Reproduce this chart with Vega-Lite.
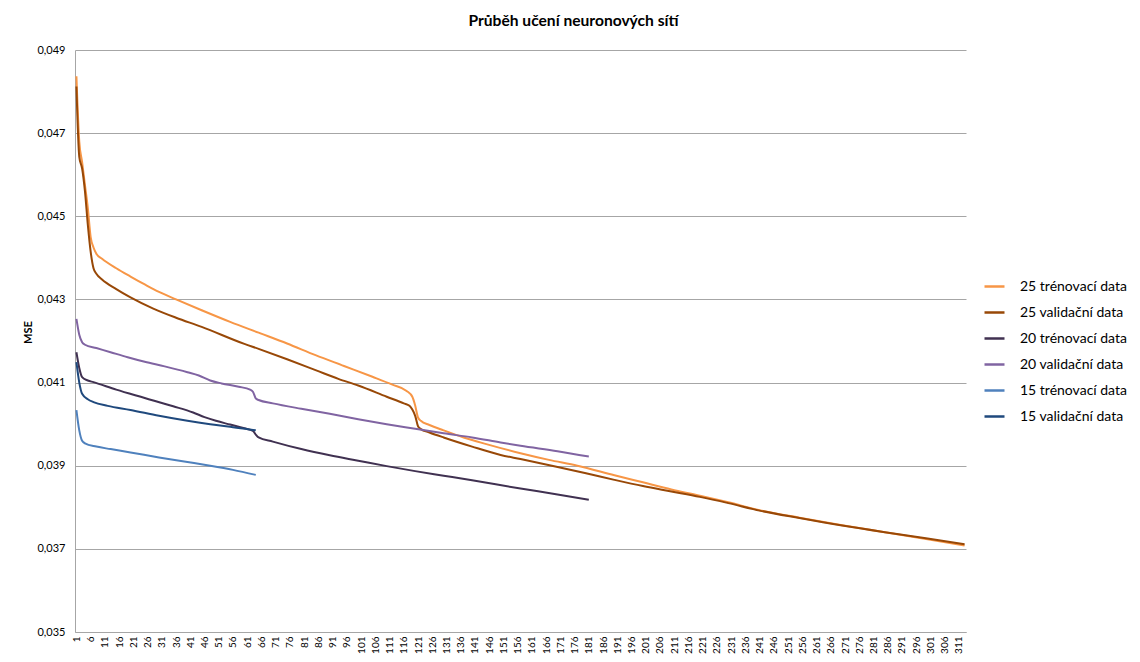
{
  "$schema": "https://vega.github.io/schema/vega-lite/v6.json",
  "width": 891,
  "height": 582,
  "autosize": {"type": "none"},
  "padding": {"left": 75, "top": 50, "right": 174, "bottom": 30},
  "background": "white",
  "title": {"text": "Průběh učení neuronových sítí", "font": "Lato", "fontSize": 15.6, "fontWeight": "bold", "color": "#000000", "anchor": "middle", "dx": 53, "offset": 14},
  "config": {"view": {"stroke": null}, "font": "Lato"},
  "data": {"values": [
    {"serie":"25 trénovací data","epocha":1,"mse":0.04837},{"serie":"25 trénovací data","epocha":2,"mse":0.0468},{"serie":"25 trénovací data","epocha":3,"mse":0.0463},{"serie":"25 trénovací data","epocha":4,"mse":0.04575},{"serie":"25 trénovací data","epocha":5,"mse":0.0452},{"serie":"25 trénovací data","epocha":6,"mse":0.0445},{"serie":"25 trénovací data","epocha":7,"mse":0.04425},{"serie":"25 trénovací data","epocha":8,"mse":0.0441},{"serie":"25 trénovací data","epocha":10,"mse":0.04398},{"serie":"25 trénovací data","epocha":15,"mse":0.04375},{"serie":"25 trénovací data","epocha":20,"mse":0.04355},{"serie":"25 trénovací data","epocha":25,"mse":0.04336},{"serie":"25 trénovací data","epocha":30,"mse":0.04318},{"serie":"25 trénovací data","epocha":36,"mse":0.043},{"serie":"25 trénovací data","epocha":45,"mse":0.04274},{"serie":"25 trénovací data","epocha":55,"mse":0.04246},{"serie":"25 trénovací data","epocha":65,"mse":0.0422},{"serie":"25 trénovací data","epocha":75,"mse":0.04194},{"serie":"25 trénovací data","epocha":85,"mse":0.04166},{"serie":"25 trénovací data","epocha":95,"mse":0.0414},{"serie":"25 trénovací data","epocha":105,"mse":0.04114},{"serie":"25 trénovací data","epocha":112,"mse":0.04095},{"serie":"25 trénovací data","epocha":117,"mse":0.0408},{"serie":"25 trénovací data","epocha":119,"mse":0.04066},{"serie":"25 trénovací data","epocha":120,"mse":0.04045},{"serie":"25 trénovací data","epocha":121,"mse":0.04016},{"serie":"25 trénovací data","epocha":122,"mse":0.04008},{"serie":"25 trénovací data","epocha":125,"mse":0.03998},{"serie":"25 trénovací data","epocha":130,"mse":0.03985},{"serie":"25 trénovací data","epocha":137,"mse":0.03968},{"serie":"25 trénovací data","epocha":145,"mse":0.03952},{"serie":"25 trénovací data","epocha":157,"mse":0.0393},{"serie":"25 trénovací data","epocha":167,"mse":0.03914},{"serie":"25 trénovací data","epocha":177,"mse":0.039},{"serie":"25 trénovací data","epocha":190,"mse":0.03877},{"serie":"25 trénovací data","epocha":200,"mse":0.0386},{"serie":"25 trénovací data","epocha":210,"mse":0.03843},{"serie":"25 trénovací data","epocha":220,"mse":0.03828},{"serie":"25 trénovací data","epocha":230,"mse":0.03812},{"serie":"25 trénovací data","epocha":241,"mse":0.03793},{"serie":"25 trénovací data","epocha":255,"mse":0.03775},{"serie":"25 trénovací data","epocha":270,"mse":0.03757},{"serie":"25 trénovací data","epocha":285,"mse":0.0374},{"serie":"25 trénovací data","epocha":300,"mse":0.03723},{"serie":"25 trénovací data","epocha":313,"mse":0.03708},
    {"serie":"25 validační data","epocha":1,"mse":0.04812},{"serie":"25 validační data","epocha":2,"mse":0.04643},{"serie":"25 validační data","epocha":3,"mse":0.04615},{"serie":"25 validační data","epocha":4,"mse":0.0456},{"serie":"25 validační data","epocha":5,"mse":0.0448},{"serie":"25 validační data","epocha":6,"mse":0.04415},{"serie":"25 validační data","epocha":7,"mse":0.04375},{"serie":"25 validační data","epocha":8,"mse":0.04362},{"serie":"25 validační data","epocha":10,"mse":0.04348},{"serie":"25 validační data","epocha":15,"mse":0.04325},{"serie":"25 validační data","epocha":20,"mse":0.04305},{"serie":"25 validační data","epocha":28,"mse":0.04278},{"serie":"25 validační data","epocha":36,"mse":0.04256},{"serie":"25 validační data","epocha":45,"mse":0.04234},{"serie":"25 validační data","epocha":60,"mse":0.04193},{"serie":"25 validační data","epocha":65,"mse":0.04181},{"serie":"25 validační data","epocha":75,"mse":0.04156},{"serie":"25 validační data","epocha":85,"mse":0.0413},{"serie":"25 validační data","epocha":93,"mse":0.04109},{"serie":"25 validační data","epocha":100,"mse":0.04093},{"serie":"25 validační data","epocha":110,"mse":0.04066},{"serie":"25 validační data","epocha":116,"mse":0.0405},{"serie":"25 validační data","epocha":118,"mse":0.04044},{"serie":"25 validační data","epocha":119,"mse":0.04035},{"serie":"25 validační data","epocha":120,"mse":0.0402},{"serie":"25 validační data","epocha":121,"mse":0.03995},{"serie":"25 validační data","epocha":122,"mse":0.03988},{"serie":"25 validační data","epocha":125,"mse":0.0398},{"serie":"25 validační data","epocha":130,"mse":0.03968},{"serie":"25 validační data","epocha":140,"mse":0.03946},{"serie":"25 validační data","epocha":150,"mse":0.03926},{"serie":"25 validační data","epocha":157,"mse":0.03916},{"serie":"25 validační data","epocha":168,"mse":0.039},{"serie":"25 validační data","epocha":180,"mse":0.03882},{"serie":"25 validační data","epocha":190,"mse":0.03866},{"serie":"25 validační data","epocha":200,"mse":0.03851},{"serie":"25 validační data","epocha":210,"mse":0.03838},{"serie":"25 validační data","epocha":220,"mse":0.03825},{"serie":"25 validační data","epocha":230,"mse":0.0381},{"serie":"25 validační data","epocha":241,"mse":0.03792},{"serie":"25 validační data","epocha":255,"mse":0.03774},{"serie":"25 validační data","epocha":270,"mse":0.03756},{"serie":"25 validační data","epocha":285,"mse":0.0374},{"serie":"25 validační data","epocha":300,"mse":0.03725},{"serie":"25 validační data","epocha":313,"mse":0.03711},
    {"serie":"20 trénovací data","epocha":1,"mse":0.04173},{"serie":"20 trénovací data","epocha":2,"mse":0.04135},{"serie":"20 trénovací data","epocha":3,"mse":0.04113},{"serie":"20 trénovací data","epocha":5,"mse":0.04105},{"serie":"20 trénovací data","epocha":7,"mse":0.04101},{"serie":"20 trénovací data","epocha":15,"mse":0.04083},{"serie":"20 trénovací data","epocha":25,"mse":0.04063},{"serie":"20 trénovací data","epocha":35,"mse":0.04043},{"serie":"20 trénovací data","epocha":42,"mse":0.04028},{"serie":"20 trénovací data","epocha":46,"mse":0.04017},{"serie":"20 trénovací data","epocha":50,"mse":0.04008},{"serie":"20 trénovací data","epocha":55,"mse":0.03999},{"serie":"20 trénovací data","epocha":60,"mse":0.0399},{"serie":"20 trénovací data","epocha":63,"mse":0.03984},{"serie":"20 trénovací data","epocha":64,"mse":0.03975},{"serie":"20 trénovací data","epocha":65,"mse":0.03968},{"serie":"20 trénovací data","epocha":70,"mse":0.03958},{"serie":"20 trénovací data","epocha":80,"mse":0.0394},{"serie":"20 trénovací data","epocha":90,"mse":0.03925},{"serie":"20 trénovací data","epocha":100,"mse":0.03912},{"serie":"20 trénovací data","epocha":110,"mse":0.03899},{"serie":"20 trénovací data","epocha":120,"mse":0.03887},{"serie":"20 trénovací data","epocha":130,"mse":0.03876},{"serie":"20 trénovací data","epocha":140,"mse":0.03865},{"serie":"20 trénovací data","epocha":157,"mse":0.03845},{"serie":"20 trénovací data","epocha":170,"mse":0.03831},{"serie":"20 trénovací data","epocha":181,"mse":0.03818},
    {"serie":"20 validační data","epocha":1,"mse":0.04253},{"serie":"20 validační data","epocha":2,"mse":0.04215},{"serie":"20 validační data","epocha":3,"mse":0.04197},{"serie":"20 validační data","epocha":4,"mse":0.04191},{"serie":"20 validační data","epocha":8,"mse":0.04183},{"serie":"20 validační data","epocha":13,"mse":0.04173},{"serie":"20 validační data","epocha":19,"mse":0.04161},{"serie":"20 validační data","epocha":25,"mse":0.0415},{"serie":"20 validační data","epocha":32,"mse":0.04139},{"serie":"20 validační data","epocha":40,"mse":0.04125},{"serie":"20 validační data","epocha":44,"mse":0.04117},{"serie":"20 validační data","epocha":48,"mse":0.04105},{"serie":"20 validační data","epocha":52,"mse":0.04098},{"serie":"20 validační data","epocha":58,"mse":0.0409},{"serie":"20 validační data","epocha":62,"mse":0.04083},{"serie":"20 validační data","epocha":63,"mse":0.04078},{"serie":"20 validační data","epocha":64,"mse":0.04062},{"serie":"20 validační data","epocha":65,"mse":0.04058},{"serie":"20 validační data","epocha":70,"mse":0.0405},{"serie":"20 validační data","epocha":80,"mse":0.04037},{"serie":"20 validační data","epocha":90,"mse":0.04025},{"serie":"20 validační data","epocha":100,"mse":0.04012},{"serie":"20 validační data","epocha":110,"mse":0.04},{"serie":"20 validační data","epocha":120,"mse":0.03989},{"serie":"20 validační data","epocha":130,"mse":0.03978},{"serie":"20 validační data","epocha":140,"mse":0.03968},{"serie":"20 validační data","epocha":150,"mse":0.03956},{"serie":"20 validační data","epocha":157,"mse":0.03948},{"serie":"20 validační data","epocha":170,"mse":0.03935},{"serie":"20 validační data","epocha":181,"mse":0.03922},
    {"serie":"15 trénovací data","epocha":1,"mse":0.04034},{"serie":"15 trénovací data","epocha":2,"mse":0.03985},{"serie":"15 trénovací data","epocha":3,"mse":0.0396},{"serie":"15 trénovací data","epocha":4,"mse":0.03954},{"serie":"15 trénovací data","epocha":8,"mse":0.03946},{"serie":"15 trénovací data","epocha":13,"mse":0.0394},{"serie":"15 trénovací data","epocha":20,"mse":0.03932},{"serie":"15 trénovací data","epocha":30,"mse":0.0392},{"serie":"15 trénovací data","epocha":40,"mse":0.03909},{"serie":"15 trénovací data","epocha":48,"mse":0.039},{"serie":"15 trénovací data","epocha":56,"mse":0.0389},{"serie":"15 trénovací data","epocha":64,"mse":0.03878},
    {"serie":"15 validační data","epocha":1,"mse":0.04149},{"serie":"15 validační data","epocha":2,"mse":0.041},{"serie":"15 validační data","epocha":3,"mse":0.04073},{"serie":"15 validační data","epocha":5,"mse":0.0406},{"serie":"15 validační data","epocha":7,"mse":0.04053},{"serie":"15 validační data","epocha":12,"mse":0.04044},{"serie":"15 validační data","epocha":20,"mse":0.04034},{"serie":"15 validační data","epocha":30,"mse":0.0402},{"serie":"15 validační data","epocha":40,"mse":0.04008},{"serie":"15 validační data","epocha":48,"mse":0.04},{"serie":"15 validační data","epocha":55,"mse":0.03994},{"serie":"15 validační data","epocha":63,"mse":0.03986},{"serie":"15 validační data","epocha":64,"mse":0.03985}
  ]},
  "mark": {"type": "line", "strokeWidth": 2, "interpolate": "monotone"},
  "encoding": {
    "x": {
      "field": "epocha", "type": "quantitative",
      "scale": {"domain": [0.5, 313.5], "nice": false, "zero": false},
      "axis": {
        "values": [1,6,11,16,21,26,31,36,41,46,51,56,61,66,71,76,81,86,91,96,101,106,111,116,121,126,131,136,141,146,151,156,161,166,171,176,181,186,191,196,201,206,211,216,221,226,231,236,241,246,251,256,261,266,271,276,281,286,291,296,301,306,311],
        "labelAngle": -90, "labelAlign": "right", "labelBaseline": "middle",
        "grid": false, "ticks": false, "domainColor": "#A6A6A6",
        "labelFont": "Lato", "labelFontSize": 10, "labelColor": "#000000", "labelPadding": 4,
        "labelOverlap": false, "labelFlush": false, "title": null
      }
    },
    "y": {
      "field": "mse", "type": "quantitative",
      "scale": {"domain": [0.035, 0.049], "nice": false, "zero": false},
      "axis": {
        "values": [0.035, 0.037, 0.039, 0.041, 0.043, 0.045, 0.047, 0.049],
        "labelExpr": "replace(format(datum.value, '.3f'), '.', ',')",
        "grid": true, "gridColor": "#A6A6A6", "ticks": false, "domainColor": "#A6A6A6",
        "labelFont": "Lato", "labelFontSize": 11, "labelColor": "#000000", "labelPadding": 10,
        "title": "MSE", "titleFont": "Lato", "titleFontSize": 11, "titleFontWeight": "bold", "titleColor": "#000000", "titlePadding": 3, "titleY": 282
      }
    },
    "color": {
      "field": "serie", "type": "nominal",
      "scale": {
        "domain": ["25 trénovací data", "25 validační data", "20 trénovací data", "20 validační data", "15 trénovací data", "15 validační data"],
        "range": ["#F79646", "#984807", "#403151", "#8064A2", "#4F81BD", "#1F497D"]
      },
      "legend": {
        "title": null, "orient": "none", "legendX": 908, "legendY": 225,
        "symbolType": "stroke", "symbolSize": 400, "symbolStrokeWidth": 2.5,
        "labelFont": "Lato", "labelFontSize": 14, "labelColor": "#000000", "labelOffset": 14,
        "rowPadding": 7
      }
    }
  }
}
